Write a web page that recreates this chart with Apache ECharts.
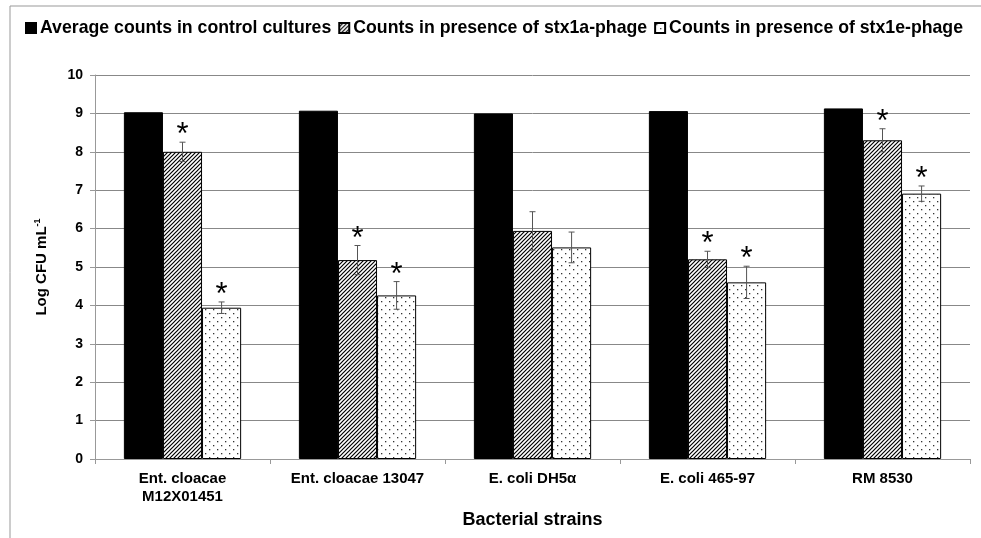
<!DOCTYPE html>
<html>
<head>
<meta charset="utf-8">
<script src="https://cdn.jsdelivr.net/npm/echarts@6/dist/echarts.min.js"></script>
<style>html,body{margin:0;padding:0;background:#fff}#c{width:981px;height:538px}</style>
</head>
<body>
<div id="c"></div>
<script>
const categories = ['Ent. cloacae\nM12X01451', 'Ent. cloacae 13047', 'E. coli DH5α', 'E. coli 465-97', 'RM 8530'];
const seriesNames = ['Average counts in control cultures', 'Counts in presence of stx1a-phage', 'Counts in presence of stx1e-phage'];
const control = [9.03, 9.07, 9.00, 9.06, 9.13];
const stx1a = [8.00, 5.18, 5.94, 5.20, 8.30];
const stx1aErr = [0.25, 0.38, 0.50, 0.21, 0.30];
const stx1e = [3.94, 4.26, 5.51, 4.60, 6.91];
const stx1eErr = [0.15, 0.36, 0.40, 0.42, 0.20];
const stx1aSig = [1, 1, 0, 1, 1];
const stx1eSig = [1, 1, 0, 1, 1];
const yTicks = [0, 1, 2, 3, 4, 5, 6, 7, 8, 9, 10];

function hatchPattern() {
  const c = document.createElement('canvas');
  c.width = 4; c.height = 4;
  const g = c.getContext('2d');
  g.fillStyle = '#fff'; g.fillRect(0, 0, 4, 4);
  g.strokeStyle = '#000'; g.lineWidth = 1.2;
  g.beginPath();
  g.moveTo(-1, 5); g.lineTo(5, -1);
  g.moveTo(-1, 1); g.lineTo(1, -1);
  g.moveTo(3, 5); g.lineTo(5, 3);
  g.stroke();
  return c;
}
function dotPattern() {
  const c = document.createElement('canvas');
  c.width = 8; c.height = 8;
  const g = c.getContext('2d');
  g.fillStyle = '#fff'; g.fillRect(0, 0, 8, 8);
  g.fillStyle = '#333';
  g.fillRect(1, 1, 1.3, 1.3);
  g.fillRect(5, 5, 1.3, 1.3);
  return c;
}

const BCG = 0.33;
function errSeries(seriesIdx, vals, errs, sig) {
  return {
    type: 'custom',
    name: 'err' + seriesIdx,
    silent: true,
    z: 5,
    data: vals.map((v, i) => [i, v, errs[i], sig[i]]),
    renderItem: function (params, api) {
      const ci = api.value(0), v = api.value(1), e = api.value(2), s = api.value(3);
      const bandW = api.size([1, 0])[0];
      const bw = bandW * (1 - BCG) / 3;
      const c = api.coord([ci, v]);
      const x = c[0] + (seriesIdx - 1) * bw;
      const yTop = api.coord([ci, v + e])[1];
      const yBot = api.coord([ci, v - e])[1];
      const cap = 3;
      const st = { stroke: '#555', lineWidth: 1 };
      const children = [
        { type: 'line', shape: { x1: x, y1: yTop, x2: x, y2: yBot }, style: st },
        { type: 'line', shape: { x1: x - cap, y1: yTop, x2: x + cap, y2: yTop }, style: st },
        { type: 'line', shape: { x1: x - cap, y1: yBot, x2: x + cap, y2: yBot }, style: st }
      ];
      if (s) {
        children.push({
          type: 'text',
          style: { text: '*', x: x, y: yTop + 9, align: 'center', verticalAlign: 'bottom',
                   font: '31px "Liberation Sans", Arial, sans-serif', fill: '#000' }
        });
      }
      return { type: 'group', children: children };
    }
  };
}

const chart = echarts.init(document.getElementById('c'), null, { renderer: 'canvas' });
const axisFont = { fontFamily: '"Liberation Sans", Arial, sans-serif', fontWeight: 'bold', color: '#000' };
chart.setOption({
  animation: false,
  backgroundColor: '#fff',
  graphic: [{
    type: 'rect', shape: { x: 10, y: 6, width: 1200, height: 800 },
    style: { fill: 'none', stroke: '#999', lineWidth: 1 }, silent: true, z: -10
  }],
  legend: {
    left: 20, top: 14,
    width: 1400,
    orient: 'horizontal',
    icon: 'rect',
    itemWidth: 10, itemHeight: 10, itemGap: 7,
    data: seriesNames,
    textStyle: Object.assign({ fontSize: 17.7, padding: [0, 0, 0, -1] }, axisFont)
  },
  grid: { left: 95, right: 11, top: 75, bottom: 79, containLabel: false },
  xAxis: {
    type: 'category',
    data: categories,
    name: 'Bacterial strains',
    nameLocation: 'middle',
    nameGap: 50,
    nameTextStyle: Object.assign({ fontSize: 18 }, axisFont),
    axisLine: { lineStyle: { color: '#999', width: 1 } },
    axisTick: { show: true, length: 5, lineStyle: { color: '#999' } },
    axisLabel: Object.assign({ fontSize: 15, margin: 11, lineHeight: 18, interval: 0 }, axisFont)
  },
  yAxis: {
    type: 'value',
    min: yTicks[0], max: yTicks[yTicks.length - 1], interval: 1,
    name: 'Log CFU mL{sup|-1}',
    nameLocation: 'middle',
    nameRotate: 90,
    nameGap: 45,
    nameTextStyle: Object.assign({ fontSize: 15, rich: { sup: Object.assign({ fontSize: 9, verticalAlign: 'top', padding: [0, 0, 8, 0] }, axisFont) } }, axisFont),
    axisLine: { show: true, lineStyle: { color: '#999', width: 1 } },
    axisTick: { show: true, length: 5, lineStyle: { color: '#999' } },
    splitLine: { lineStyle: { color: '#888', width: 1 } },
    axisLabel: Object.assign({ fontSize: 14, margin: 12 }, axisFont)
  },
  series: [
    { type: 'bar', name: seriesNames[0], data: control, barGap: '0%', barCategoryGap: (BCG * 100) + '%',
      itemStyle: { color: '#000', borderColor: '#000', borderWidth: 1 } },
    { type: 'bar', name: seriesNames[1], data: stx1a, barGap: '0%', barCategoryGap: (BCG * 100) + '%',
      itemStyle: { color: { image: hatchPattern(), repeat: 'repeat' }, borderColor: '#000', borderWidth: 1 } },
    { type: 'bar', name: seriesNames[2], data: stx1e, barGap: '0%', barCategoryGap: (BCG * 100) + '%',
      itemStyle: { color: { image: dotPattern(), repeat: 'repeat' }, borderColor: '#000', borderWidth: 1 } },
    errSeries(1, stx1a, stx1aErr, stx1aSig),
    errSeries(2, stx1e, stx1eErr, stx1eSig)
  ]
});
</script>
</body>
</html>
